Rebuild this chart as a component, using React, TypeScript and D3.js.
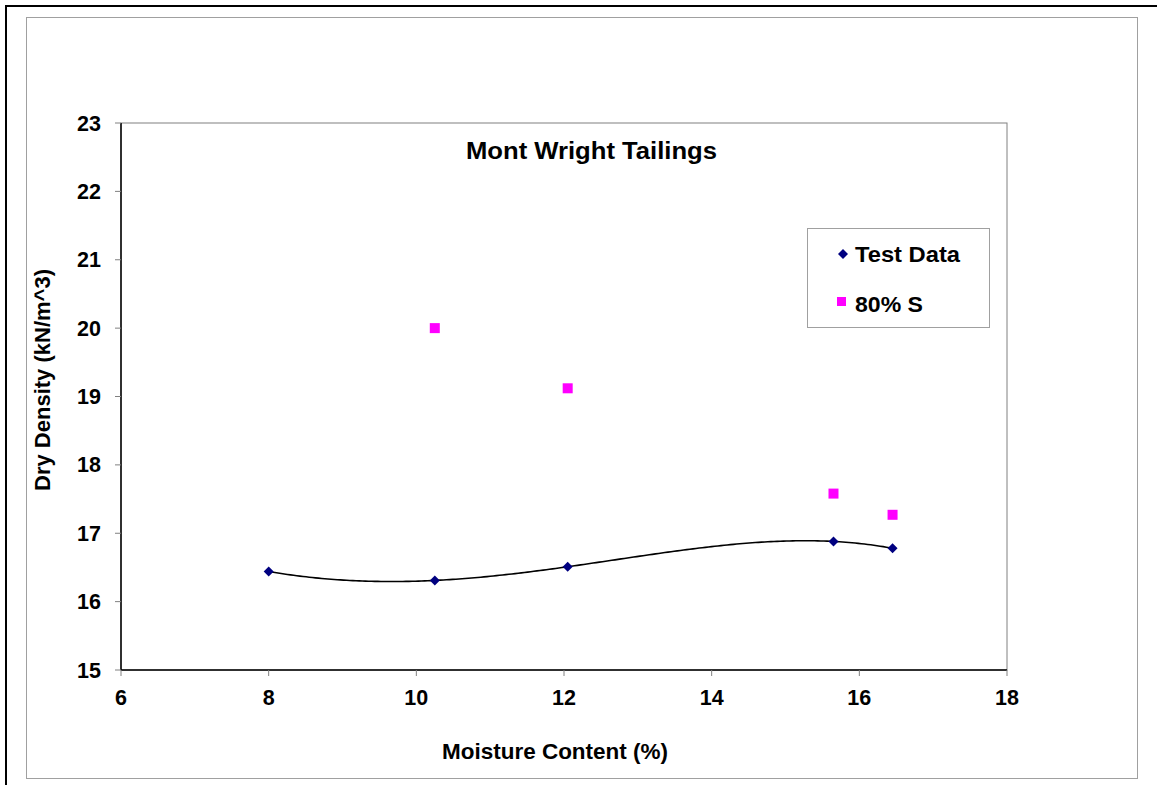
import React from "react";
import * as d3 from "d3";

const moisture = [8.0, 10.25, 12.05, 15.65, 16.45];
const testData = [16.44, 16.31, 16.51, 16.88, 16.78];
const sat80Moisture = [10.25, 12.05, 15.65, 16.45];
const sat80 = [20.0, 19.12, 17.58, 17.27];
const xTicks = [6, 8, 10, 12, 14, 16, 18];
const yTicks = [15, 16, 17, 18, 19, 20, 21, 22, 23];

const W = 1157;
const H = 785;
const left = 121, right = 1007, top = 123, bottom = 670;
const font = "'Liberation Sans', Arial, sans-serif";

// polynomial (order 4) trendline through the test data: Lagrange form
function trend(xv: number): number {
  let s = 0;
  for (let i = 0; i < moisture.length; i++) {
    let p = testData[i];
    for (let j = 0; j < moisture.length; j++) {
      if (j !== i) p *= (xv - moisture[j]) / (moisture[i] - moisture[j]);
    }
    s += p;
  }
  return s;
}

export default function App() {
  const x = d3.scaleLinear().domain([6, 18]).range([left, right]);
  const y = d3.scaleLinear().domain([15, 23]).range([bottom, top]);
  const pts: [number, number][] = moisture.map((m, i) => [x(m), y(testData[i])]);
  const xs = d3.range(0, 201).map((k) => moisture[0] + ((moisture[moisture.length - 1] - moisture[0]) * k) / 200);
  const line = d3.line<number>().x((v) => x(v)).y((v) => y(trend(v)))(xs) || "";
  const diamond = (cx: number, cy: number, r = 5) =>
    `M${cx},${cy - r}L${cx + r},${cy}L${cx},${cy + r}L${cx - r},${cy}Z`;

  return (
    <svg width={W} height={H} style={{ position: "absolute", left: 0, top: 0, background: "#fff" }}>
      <rect x={6} y={6} width={1300} height={900} fill="none" stroke="#000" strokeWidth={2} />
      <rect x={26.5} y={17.5} width={1111} height={761} fill="none" stroke="#a0a0a0" strokeWidth={1} />
      {/* plot area */}
      <rect x={left} y={top} width={right - left} height={bottom - top} fill="#fff" stroke="#808080" strokeWidth={1} />
      <line x1={left} y1={top} x2={left} y2={bottom} stroke="#000" strokeWidth={1.5} />
      <line x1={left} y1={bottom} x2={right} y2={bottom} stroke="#000" strokeWidth={1.5} />
      {yTicks.map((t) => (
        <g key={"y" + t}>
          <line x1={left - 6} x2={left} y1={y(t)} y2={y(t)} stroke="#808080" />
          <text x={101} y={y(t) + 7.5} textAnchor="end" fontFamily={font} fontWeight="bold" fontSize={21.5}>
            {t}
          </text>
        </g>
      ))}
      {xTicks.map((t) => (
        <g key={"x" + t}>
          <line x1={x(t)} x2={x(t)} y1={bottom} y2={bottom + 6} stroke="#808080" />
          <text x={x(t)} y={705} textAnchor="middle" fontFamily={font} fontWeight="bold" fontSize={21.5}>
            {t}
          </text>
        </g>
      ))}
      <text x={466} y={158.5} textLength={251} lengthAdjust="spacingAndGlyphs" fontFamily={font} fontWeight="bold" fontSize={23}>
        Mont Wright Tailings
      </text>
      <text x={442} y={759} textLength={226} lengthAdjust="spacingAndGlyphs" fontFamily={font} fontWeight="bold" fontSize={22.5}>
        Moisture Content (%)
      </text>
      <text
        transform={`translate(50,380) rotate(-90)`}
        textAnchor="middle"
        fontFamily={font}
        fontWeight="bold"
        fontSize={22}
      >
        Dry Density (kN/m^3)
      </text>
      <path d={line} fill="none" stroke="#000" strokeWidth={1.6} />
      {pts.map(([cx, cy], i) => (
        <path key={"d" + i} d={diamond(cx, cy)} fill="#000080" />
      ))}
      {sat80Moisture.map((m, i) => (
        <rect key={"s" + i} x={x(m) - 5} y={y(sat80[i]) - 5} width={10} height={10} fill="#ff00ff" />
      ))}
      {/* legend */}
      <rect x={807.5} y={228.5} width={182} height={99} fill="#fff" stroke="#a0a0a0" />
      <path d={diamond(843, 254, 5)} fill="#000080" />
      <text x={855} y={261.5} textLength={105} lengthAdjust="spacingAndGlyphs" fontFamily={font} fontWeight="bold" fontSize={22}>
        Test Data
      </text>
      <rect x={837} y={297} width={9} height={9} fill="#ff00ff" />
      <text x={855} y={311.5} textLength={68} lengthAdjust="spacingAndGlyphs" fontFamily={font} fontWeight="bold" fontSize={22}>
        80% S
      </text>
    </svg>
  );
}
